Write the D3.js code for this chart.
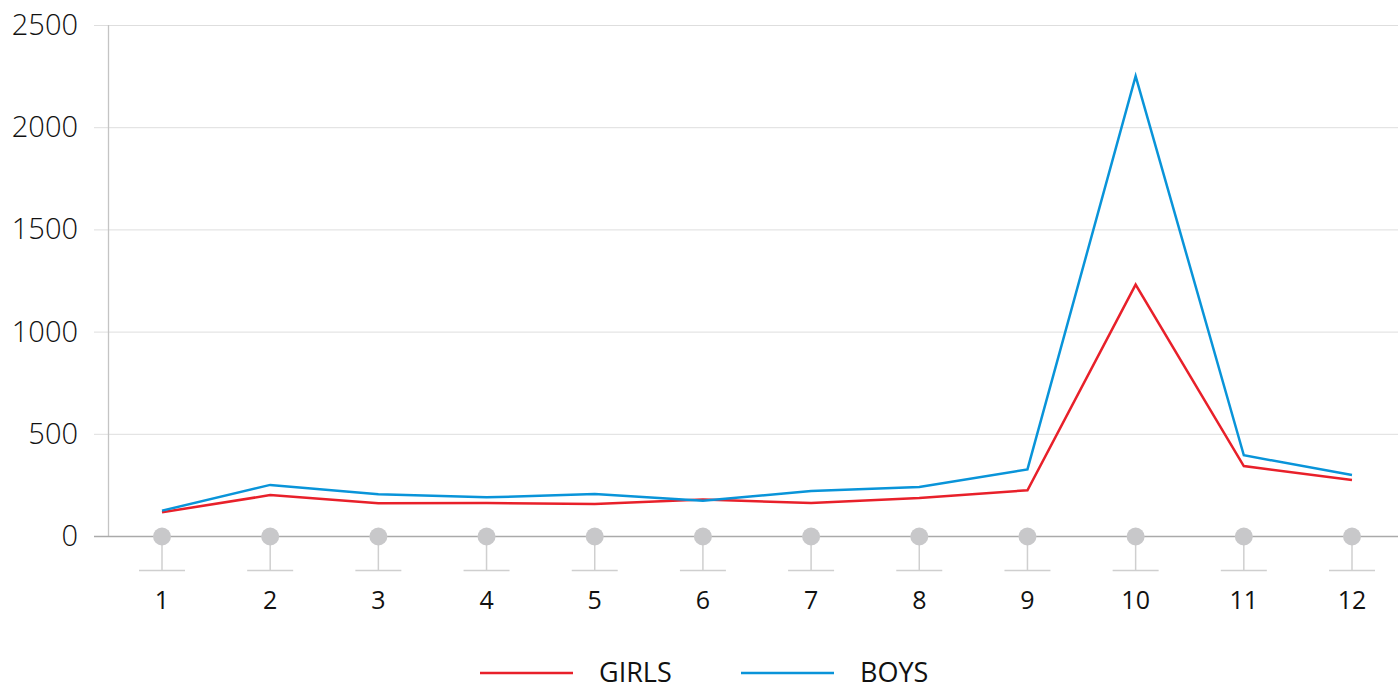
<!DOCTYPE html>
<html>
<head>
<meta charset="utf-8">
<script src="https://cdn.jsdelivr.net/npm/d3@7"></script>
<style>
  body { margin: 0; background: #fff; }
  svg { display: block; font-family: "Open Sans", "Noto Sans", sans-serif; }
</style>
</head>
<body>
<svg id="chart" width="1398" height="689"></svg>
<script>
// data
const months = [1, 2, 3, 4, 5, 6, 7, 8, 9, 10, 11, 12]
const girls = [116, 200, 160, 161, 157, 178, 161, 186, 224, 1230, 342, 274]
const boys = [124, 250, 204, 189, 205, 172, 220, 240, 326, 2250, 395, 298]
const yTicks = [0, 500, 1000, 1500, 2000, 2500]
const seriesNames = ['GIRLS', 'BOYS']
const colors = ['#e8202a', '#0994d9']

const svg = d3.select('#chart')

const x = d3.scalePoint()
    .domain(months)
    .range([162, 1352])

const y = d3.scaleLinear()
    .domain([0, 2500])
    .range([536, 25])

// gridlines
svg.append('g')
    .selectAll('line')
    .data(yTicks.filter(d => d > 0))
    .enter().append('line')
        .attr('x1', 94)
        .attr('x2', 1398)
        .attr('y1', d => y(d) + 0.5)
        .attr('y2', d => y(d) + 0.5)
        .attr('stroke', '#dedede')
        .attr('stroke-width', 1)

// y axis line
svg.append('line')
    .attr('x1', 108.5).attr('x2', 108.5)
    .attr('y1', y(2500)).attr('y2', y(0))
    .attr('stroke', '#c4c4c4')
    .attr('stroke-width', 1.3)

// baseline
svg.append('line')
    .attr('x1', 94).attr('x2', 1398)
    .attr('y1', y(0) + 0.5).attr('y2', y(0) + 0.5)
    .attr('stroke', '#aaaaaa')
    .attr('stroke-width', 1.3)

// y labels
svg.append('g')
    .selectAll('text')
    .data(yTicks)
    .enter().append('text')
        .attr('x', 78)
        .attr('y', d => y(d) + 10)
        .attr('text-anchor', 'end')
        .attr('font-size', 29)
        .attr('font-weight', 300)
        .attr('fill', '#111')
        .text(d => d)

// x ticks: stem + foot + circle
const ticks = svg.append('g')
    .selectAll('g')
    .data(months)
    .enter().append('g')
        .attr('transform', d => `translate(${x(d)},0)`)

ticks.append('line')
    .attr('x1', 0).attr('x2', 0)
    .attr('y1', y(0)).attr('y2', 570)
    .attr('stroke', '#cfcfcf')
    .attr('stroke-width', 1.5)

ticks.append('line')
    .attr('x1', -23).attr('x2', 23)
    .attr('y1', 570.5).attr('y2', 570.5)
    .attr('stroke', '#cfcfcf')
    .attr('stroke-width', 1.5)

ticks.append('circle')
    .attr('cx', 0)
    .attr('cy', y(0) + 0.5)
    .attr('r', 9)
    .attr('fill', '#c8c8ca')

ticks.append('text')
    .attr('y', 609)
    .attr('text-anchor', 'middle')
    .attr('font-size', 25)
    .attr('fill', '#111')
    .text(d => d)

// lines
const line = d3.line()
    .x((d, i) => x(months[i]))
    .y(d => y(d))

svg.append('g')
    .selectAll('path')
    .data([girls, boys])
    .enter().append('path')
        .attr('d', d => line(d))
        .attr('fill', 'none')
        .attr('stroke', (d, i) => colors[i])
        .attr('stroke-width', 2.5)
        .attr('stroke-linejoin', 'miter')

// legend (nudged up a little so the text is not clipped by the bottom edge)
const legendX = [480, 741]
const legend = svg.append('g')
    .selectAll('g')
    .data(seriesNames)
    .enter().append('g')
        .attr('transform', (d, i) => `translate(${legendX[i]},673)`)

legend.append('line')
    .attr('x1', 0).attr('x2', 93)
    .attr('y1', 0).attr('y2', 0)
    .attr('stroke', (d, i) => colors[i])
    .attr('stroke-width', 2.5)

legend.append('text')
    .attr('x', 119)
    .attr('y', 9)
    .attr('font-size', 27)
    .attr('fill', '#111')
    .text(d => d)
</script>
</body>
</html>
